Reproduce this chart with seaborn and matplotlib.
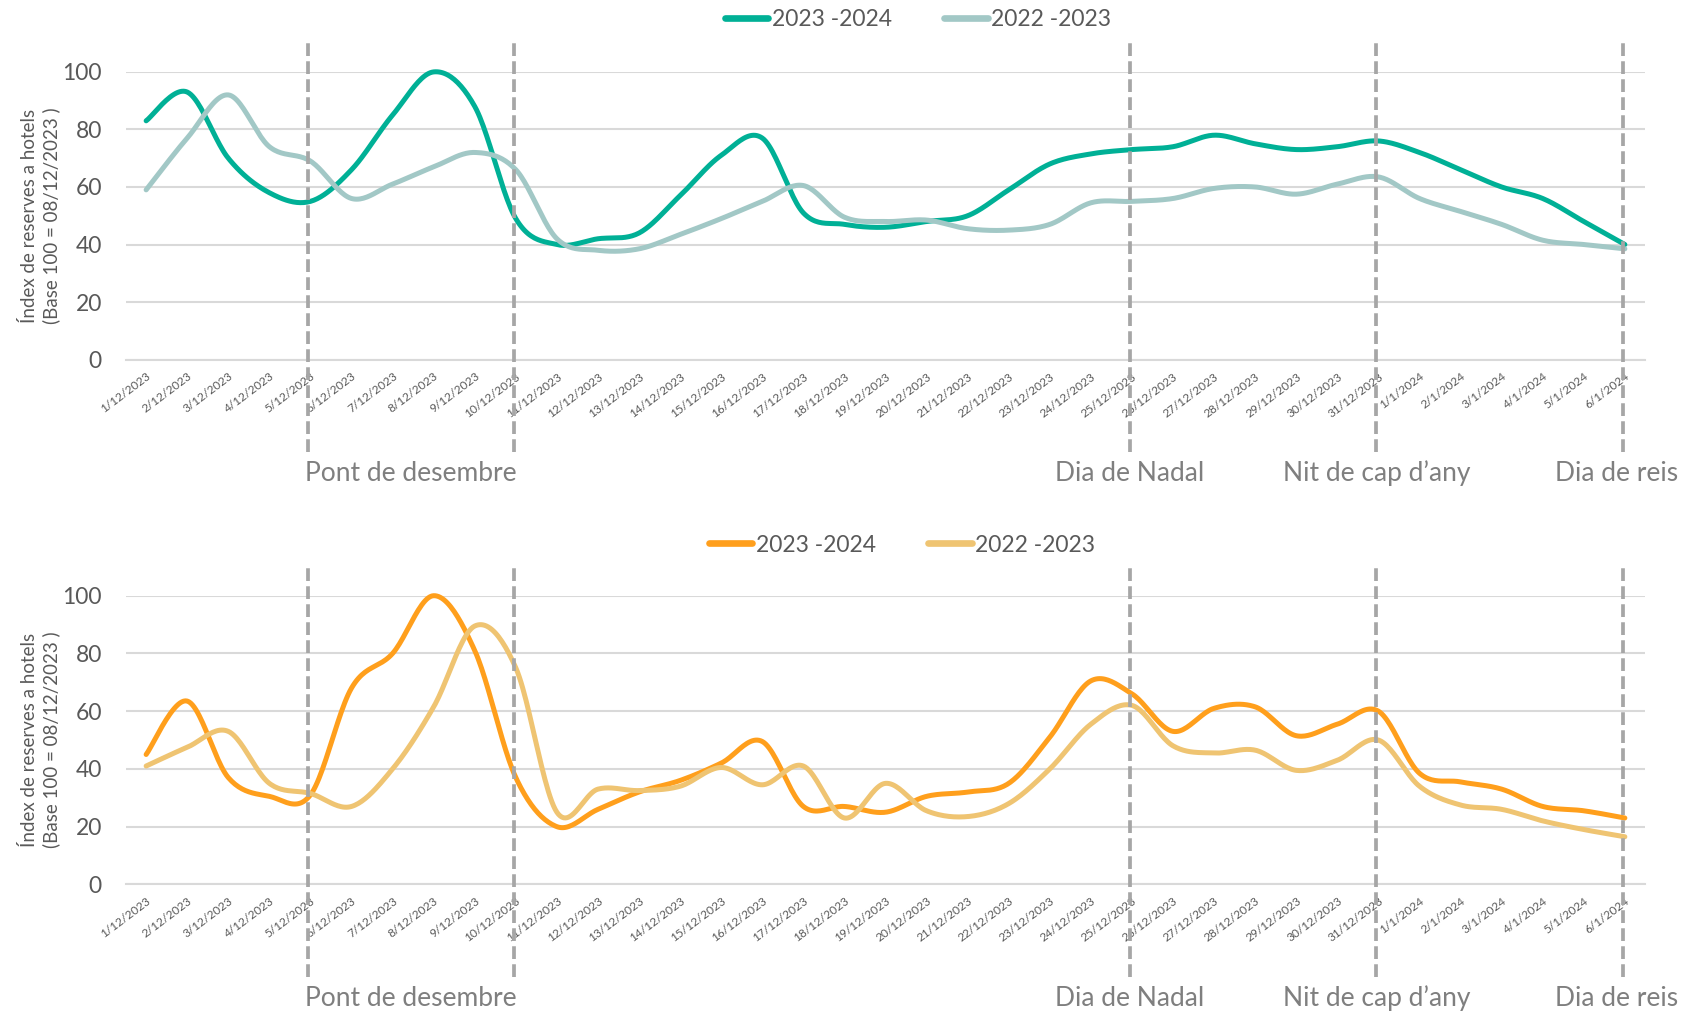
import numpy as np
import pandas as pd
import matplotlib
matplotlib.use("Agg")
import matplotlib.pyplot as plt
import matplotlib.transforms as mtransforms
from matplotlib.lines import Line2D
import seaborn as sns

# ---------------- data ----------------
dates = ["1/12/2023", "2/12/2023", "3/12/2023", "4/12/2023", "5/12/2023", "6/12/2023",
         "7/12/2023", "8/12/2023", "9/12/2023", "10/12/2023", "11/12/2023", "12/12/2023",
         "13/12/2023", "14/12/2023", "15/12/2023", "16/12/2023", "17/12/2023", "18/12/2023",
         "19/12/2023", "20/12/2023", "21/12/2023", "22/12/2023", "23/12/2023", "24/12/2023",
         "25/12/2023", "26/12/2023", "27/12/2023", "28/12/2023", "29/12/2023", "30/12/2023",
         "31/12/2023", "1/1/2024", "2/1/2024", "3/1/2024", "4/1/2024", "5/1/2024", "6/1/2024"]

series_names = ["2023 -2024", "2022 -2023"]

top_2023_2024 = [83, 93, 70, 58, 55, 66, 85, 100, 88, 49, 40, 42, 44, 57, 71, 77, 51, 47, 46,
                 48, 50, 59, 68, 71.5, 73, 74, 78, 75, 73, 74, 76, 72, 66, 60, 56, 48, 40]
top_2022_2023 = [59, 77, 92, 74, 69, 56, 61, 67, 72, 66, 42, 38, 38.5, 43.5, 49, 55, 60.5, 49.5,
                 48, 48.5, 45.5, 45, 47, 54.5, 55, 56, 59.5, 60, 57.5, 61, 63.5, 56, 51.5, 47,
                 41.5, 40, 38.5]

bot_2023_2024 = [45, 63.5, 37, 30.5, 31, 68, 80, 100, 81, 37, 20, 26, 32, 36, 42, 49.5, 27, 27,
                 25, 30.5, 32, 35, 51, 70.5, 66, 53, 61, 61.5, 51.5, 55.5, 60, 38.5, 35.5, 33,
                 27, 25.5, 23]
bot_2022_2023 = [41, 47.5, 53, 35, 31.5, 27, 40, 61.5, 89.5, 75, 25, 33, 32.5, 34, 40.5, 34.5,
                 41, 23, 35, 25.5, 23.5, 28, 40, 55.5, 62, 48, 45.5, 46.5, 39.5, 43, 50, 34,
                 27.5, 26, 22, 19, 16.5]

y_ticks = [0, 20, 40, 60, 80, 100]
y_label = "Índex de reserves a hotels\n(Base 100 = 08/12/2023 )"

event_dates = ["5/12/2023", "10/12/2023", "25/12/2023", "31/12/2023", "6/1/2024"]
event_labels = [("Pont de desembre", "5/12/2023", "10/12/2023"),
                ("Dia de Nadal", "25/12/2023", "25/12/2023"),
                ("Nit de cap d\u2019any", "31/12/2023", "31/12/2023"),
                ("Dia de reis", "6/1/2024", "6/1/2024")]

top_colors = ["#00B096", "#A2C8C6"]
bot_colors = ["#FF9F1C", "#EFC472"]

# ---------------- style ----------------
sns.set_theme(style="white")
plt.rcParams['font.family'] = ['Lato', 'DejaVu Sans']
TXT = "#595959"
GRID = "#D9D9D9"
DASH = "#A6A6A6"
ANN = "#7F7F7F"


def smooth(vals, n=24):
    """Excel-like smoothed line (Catmull-Rom Bezier) through the data points."""
    y = np.asarray(vals, float)
    x = np.arange(len(y), dtype=float)
    xs, ys = [], []
    last = len(y) - 1
    for i in range(last):
        p0 = max(i - 1, 0)
        p3 = min(i + 2, last)
        bx = [x[i], x[i] + (x[i + 1] - x[p0]) / 6, x[i + 1] - (x[p3] - x[i]) / 6, x[i + 1]]
        by = [y[i], y[i] + (y[i + 1] - y[p0]) / 6, y[i + 1] - (y[p3] - y[i]) / 6, y[i + 1]]
        t = np.linspace(0, 1, n, endpoint=(i == last - 1))
        c = [(1 - t) ** 3, 3 * (1 - t) ** 2 * t, 3 * (1 - t) * t ** 2, t ** 3]
        xs.append(sum(ci * b for ci, b in zip(c, bx)))
        ys.append(sum(ci * b for ci, b in zip(c, by)))
    return np.concatenate(xs), np.concatenate(ys)


def build_df(a, b):
    rows = []
    for name, vals in zip(series_names, [a, b]):
        xs, ys = smooth(vals)
        rows.append(pd.DataFrame({"x": xs, "y": ys, "serie": name}))
    return pd.concat(rows, ignore_index=True)


W, H = 1683, 1014
fig = plt.figure(figsize=(W / 100, H / 100), dpi=100)
left = 125.6 / W
width = (1645.4 - 125.6) / W

ax_top = fig.add_axes([left, 1 - 359.6 / H, width, 287.7 / H])
ax_bot = fig.add_axes([left, 1 - 884.4 / H, width, 288.7 / H])

idx = {d: i for i, d in enumerate(dates)}


def draw(ax, a, b, colors, legend_xy):
    df = build_df(a, b)
    sns.lineplot(data=df, x="x", y="y", hue="serie", hue_order=series_names,
                 palette=colors, sort=False, estimator=None, linewidth=3.6,
                 legend=False, ax=ax, zorder=3)
    for ln in ax.lines:
        ln.set_solid_capstyle("round")
        ln.set_clip_on(False)
    ax.set_xlim(-0.5, len(dates) - 0.5)
    ax.set_ylim(0, 100)
    ax.set_yticks(y_ticks)
    ax.set_xticks(range(len(dates)))
    ax.set_xticklabels(dates, rotation=37, ha="right", rotation_mode="anchor",
                       fontsize=8.6, color=TXT)
    ax.set_xticks(np.arange(-0.5, len(dates), 1.0), minor=True)
    ax.tick_params(axis="x", which="major", length=0, pad=8)
    ax.tick_params(axis="x", which="minor", length=6, width=1.3, color=GRID, direction="out")
    ax.tick_params(axis="y", length=0, labelsize=16.5, labelcolor=TXT, pad=17)
    ax.grid(axis="y", color=GRID, linewidth=1.5)
    ax.grid(axis="x", visible=False)
    for s in ["top", "right", "left"]:
        ax.spines[s].set_visible(False)
    ax.spines["bottom"].set_color(GRID)
    ax.spines["bottom"].set_linewidth(1.5)
    ax.set_xlabel("")
    ax.set_ylabel(y_label, fontsize=13.5, color=TXT, linespacing=1.3)
    ax.yaxis.set_label_coords(-0.043, 0.5)

    # vertical dashed event markers
    for d in event_dates:
        ax.axvline(idx[d] - 0.05, ymin=-0.32, ymax=1.112, color=DASH, linewidth=2.7,
                   dashes=(3.4, 1.4), clip_on=False, zorder=4)
    trans = mtransforms.blended_transform_factory(ax.transData, ax.transAxes)
    for k, (txt, d1, d2) in enumerate(event_labels):
        xc = (idx[d1] + idx[d2]) / 2 - 0.05
        if k == len(event_labels) - 1:
            xc -= 0.15
        ax.text(xc, -0.395, txt, transform=trans, ha="center", va="center",
                fontsize=19, color=ANN)

    handles = [Line2D([0], [0], color=c, linewidth=4.8, solid_capstyle="round")
               for c in colors]
    leg = fig.legend(handles, series_names, loc="center", bbox_to_anchor=legend_xy,
                     ncol=2, frameon=False, fontsize=16.5, handlelength=1.9,
                     handletextpad=0.15, columnspacing=2.3)
    for t in leg.get_texts():
        t.set_color(TXT)


draw(ax_top, top_2023_2024, top_2022_2023, top_colors, (918 / W, 1 - 20 / H))
draw(ax_bot, bot_2023_2024, bot_2022_2023, bot_colors, (902 / W, 1 - 545 / H))

fig.savefig("out.png", dpi=100)
